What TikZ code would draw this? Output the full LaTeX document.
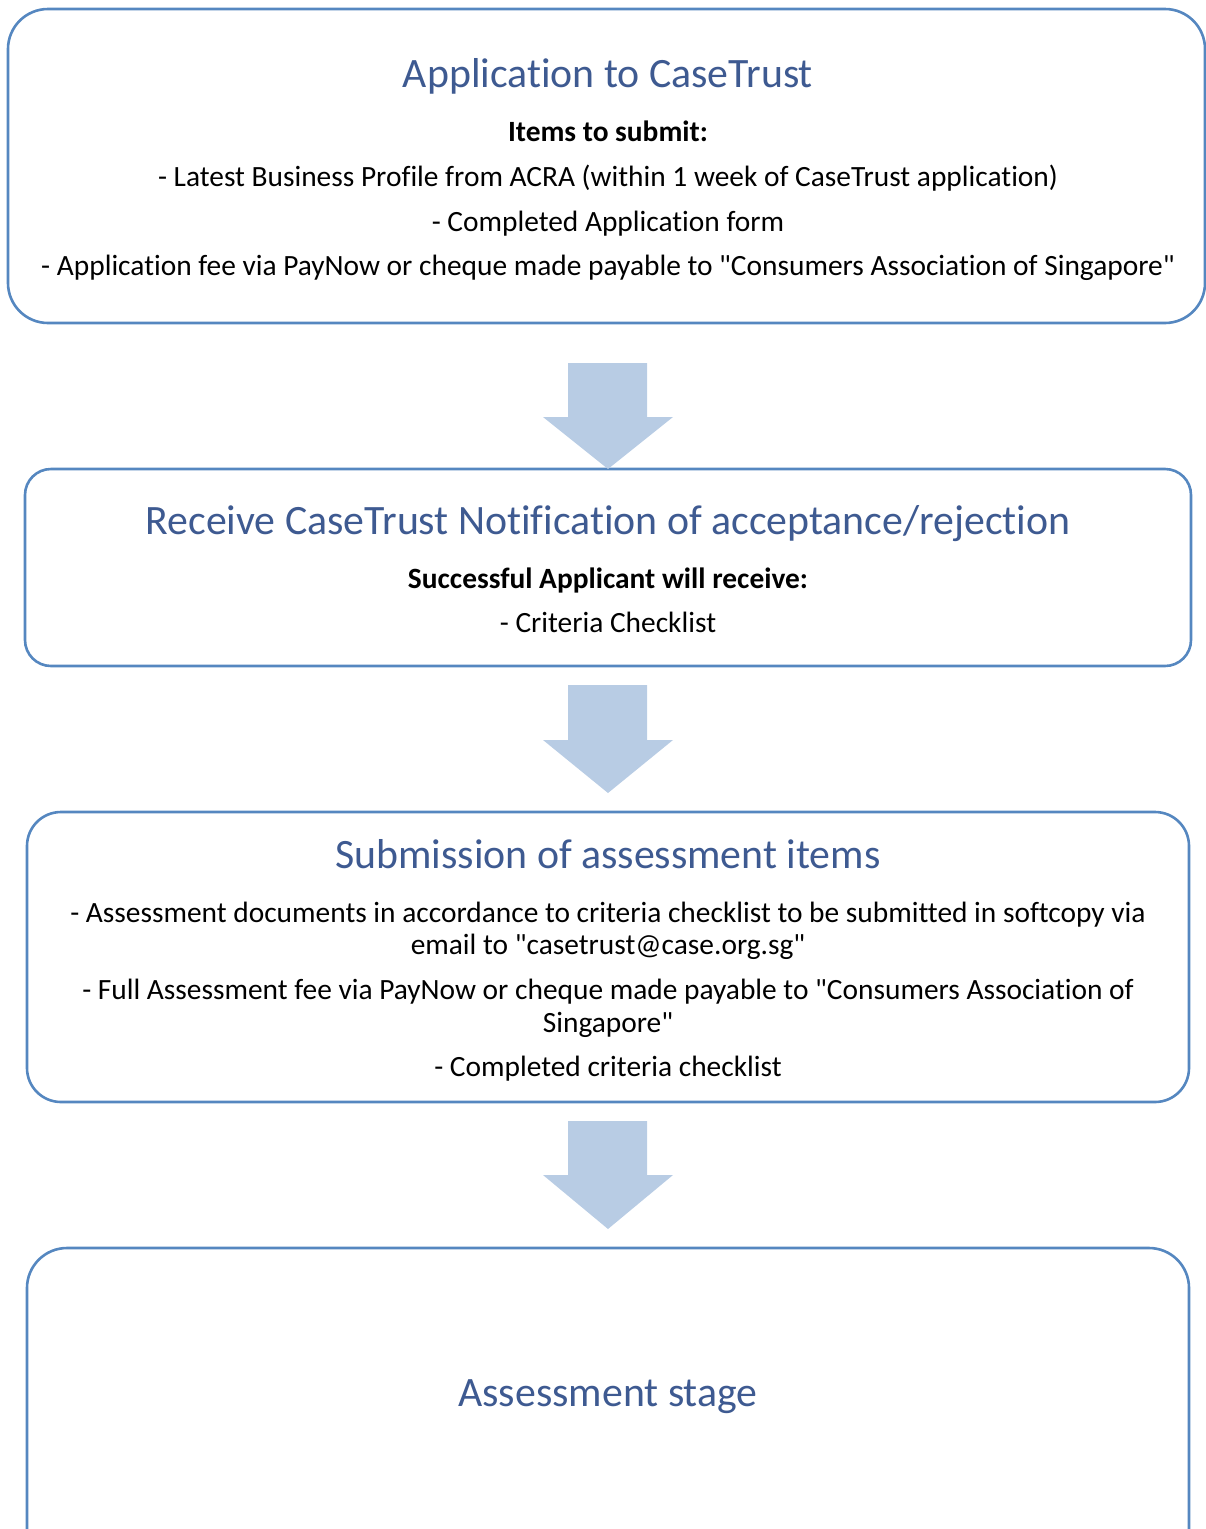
\documentclass[tikz,border=0pt]{standalone}
\usepackage{fontspec}
\setmainfont{Carlito}[Ligatures={TeXOff,NoCommon}]
\definecolor{boxline}{HTML}{5587C0}
\definecolor{arrfill}{HTML}{B8CCE4}
\definecolor{titlec}{HTML}{3E5A91}
\tikzset{
  stagebox/.style={draw=boxline, line width=2.6pt, fill=white},
  ttl/.style={font=\fontsize{41.8}{48}\selectfont, text=titlec, inner sep=0pt, anchor=base},
  body/.style={font=\fontsize{29.4}{34}\selectfont, text=black, inner sep=0pt, anchor=base},
  bodyb/.style={body, font=\fontsize{29.4}{34}\selectfont\bfseries},
  flowarrow/.style={fill=arrfill, draw=none}
}
\begin{document}
\begin{tikzpicture}[x=1pt,y=-1pt]
\useasboundingbox (0,0) rectangle (1206,1529);
\clip (0,0) rectangle (1206,1529);
% boxes
\draw[stagebox, rounded corners=40pt] (8,9) rectangle (1205,323);
\draw[stagebox, rounded corners=26pt] (25,469) rectangle (1191,666);
\draw[stagebox, rounded corners=34pt] (27,812) rectangle (1189,1102);
\draw[stagebox, rounded corners=40pt] (27,1248) rectangle (1189,1580);
% arrows
\foreach \t/\s/\p in {363/417/469, 685/740/793, 1121/1175/1229}{
  \fill[flowarrow] (568,\t) -- (647,\t) -- (647,\s) -- (673,\s) -- (608,\p) -- (543,\s) -- (568,\s) -- cycle;
}
% box 1
\node[ttl] (t1) at (608,87) {Application to CaseTrust};
\node[bodyb] (b1a) at (608,141) {Items to submit:};
\node[body] (b1b) at (608,186) {- Latest Business Profile from ACRA (within 1 week of CaseTrust application)};
\node[body] (b1c) at (608,231) {- Completed Application form};
\node[body] (b1d) at (608,275) {- Application fee via PayNow or cheque made payable to "Consumers Association of Singapore"};
% box 2
\node[ttl] (t2) at (608,534) {Receive CaseTrust Notification of acceptance/rejection};
\node[bodyb] (b2a) at (608,588) {Successful Applicant will receive:};
\node[body] (b2b) at (608,632) {- Criteria Checklist};
% box 3
\node[ttl] (t3) at (608,868) {Submission of assessment items};
\node[body] (b3a) at (608,922) {- Assessment documents in accordance to criteria checklist to be submitted in softcopy via};
\node[body] (b3b) at (608,954) {email to "casetrust@case.org.sg"};
\node[body] (b3c) at (608,999) {- Full Assessment fee via PayNow or cheque made payable to "Consumers Association of};
\node[body] (b3d) at (608,1032) {Singapore"};
\node[body] (b3e) at (608,1076) {- Completed criteria checklist};
% box 4
\node[ttl] (t4) at (608,1406) {Assessment stage};
\end{tikzpicture}
\end{document}
